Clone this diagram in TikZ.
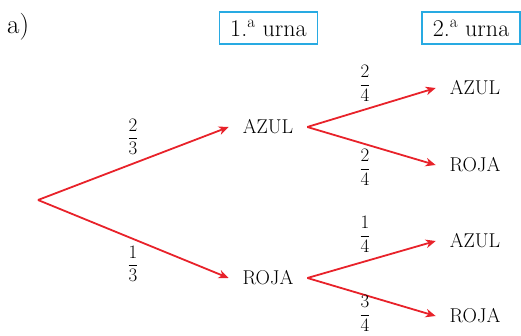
\documentclass[tikz,border=0pt]{standalone}
\usepackage{amsmath}
\usetikzlibrary{arrows.meta}
\definecolor{branchred}{RGB}{232,34,42}
\definecolor{urnblue}{RGB}{40,170,226}
\tikzset{
	branch/.style={draw=branchred, line width=1.8pt, -{Stealth[length=10pt,width=8.5pt,inset=3pt]}},
	colour/.style={inner sep=0pt, outer sep=14pt, font=\fontsize{20}{23}\selectfont},
	prob/.style={inner sep=0pt, font=\fontsize{19}{22}\selectfont},
	urn/.style={draw=urnblue, line width=1.2pt, inner sep=0pt, minimum width=98pt, minimum height=32pt, font=\fontsize{24}{28}\selectfont},
}
\newcommand{\pfrac}[2]{$\dfrac{\mbox{#1}}{\mbox{#2}}$}

\begin{document}
\begin{tikzpicture}[x=1pt, y=-1pt]
			%%%%% START %%%%%
			\useasboundingbox (0, 0) rectangle (521, 336);
			
			\node[anchor=west, inner sep=0pt, font=\fontsize{27}{31}\selectfont] (part) at (7, 27) {a)};
			\node[urn] (urnA) at (268.5, 28) {1.\textsuperscript{a} urna};
			\node[urn] (urnB) at (471, 28) {2.\textsuperscript{a} urna};
			
			\coordinate (root) at (38, 200);
			
			\node[colour] (azul) at (268, 127) {AZUL};
			\node[colour] (roja) at (268, 278) {ROJA};
			
			\node[colour] (azulazul) at (475, 88) {AZUL};
			\node[colour] (azulroja) at (475, 165) {ROJA};
			\node[colour] (rojaazul) at (475, 241) {AZUL};
			\node[colour] (rojaroja) at (475, 316) {ROJA};
			
			\draw[branch] (root) -- (azul.west);
			\draw[branch] (root) -- (roja.west);
			\draw[branch] (azul.east) -- (azulazul.west);
			\draw[branch] (azul.east) -- (azulroja.west);
			\draw[branch] (roja.east) -- (rojaazul.west);
			\draw[branch] (roja.east) -- (rojaroja.west);
			
			\node[prob] (pazul) at (133, 137) {\pfrac{2}{3}};
			\node[prob] (proja) at (133, 264) {\pfrac{1}{3}};
			\node[prob] (pazulazul) at (365, 83) {\pfrac{2}{4}};
			\node[prob] (pazulroja) at (365, 167) {\pfrac{2}{4}};
			\node[prob] (projaazul) at (365, 234) {\pfrac{1}{4}};
			\node[prob] (projaroja) at (365, 313) {\pfrac{3}{4}};
			
			%%%%% END %%%%%
\end{tikzpicture}
\end{document}
